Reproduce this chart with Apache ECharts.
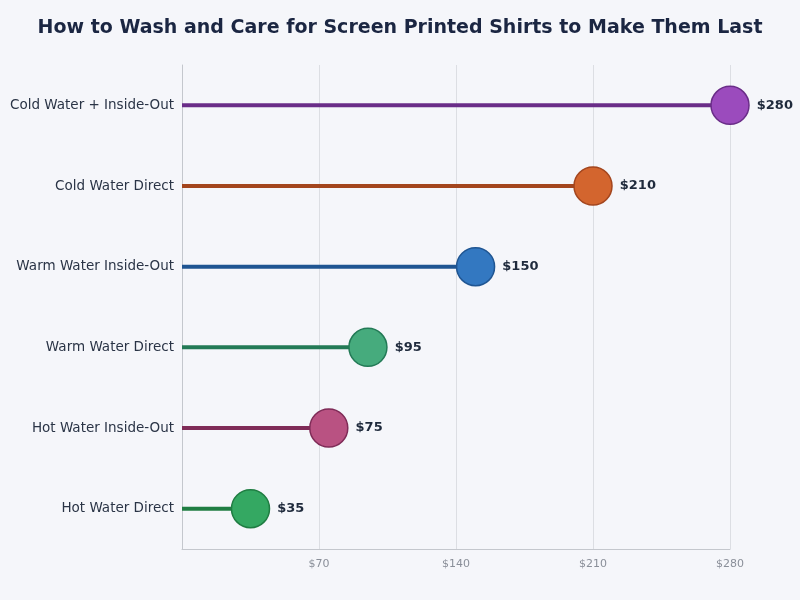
<!DOCTYPE html>
<html style="height: 100%">
<head>
  <meta charset="utf-8">
  <script src="https://cdn.jsdelivr.net/npm/echarts@6/dist/echarts.min.js"></script>
</head>
<body style="height: 100%; width: 100%; margin: 0; background: #f5f6fa">
<div id="main" style="width: 800px; height: 600px"></div>
<script type="text/javascript">
// data, bottom to top
var categories = ['Hot Water Direct', 'Hot Water Inside-Out', 'Warm Water Direct',
                  'Warm Water Inside-Out', 'Cold Water Direct', 'Cold Water + Inside-Out'];
var values = [35, 75, 95, 150, 210, 280];
var fillColors = ['#34a862', '#b95282', '#46ab7d', '#3378c1', '#d3652e', '#9b4bbd'];
var stemColors = ['#1f7d42', '#7f2b57', '#237a56', '#1f5592', '#a3451d', '#6a2d88'];
var tickValues = [70, 140, 210, 280];

var chart = echarts.init(document.getElementById('main'));

var stems = [], dots = [];
for (var i = 0; i < values.length; i++) {
  stems.push({ value: values[i], itemStyle: { color: stemColors[i] } });
  dots.push({
    value: [values[i], categories[i]],
    itemStyle: { color: fillColors[i], borderColor: stemColors[i], borderWidth: 1.5, opacity: 1 }
  });
}

var option = {
  backgroundColor: '#f5f6fa',
  textStyle: { fontFamily: 'DejaVu Sans' },
  title: {
    text: 'How to Wash and Care for Screen Printed Shirts to Make Them Last',
    left: 'center',
    top: 14,
    textStyle: { fontSize: 19, fontWeight: 'bold', color: '#1b2642', fontFamily: 'DejaVu Sans' }
  },
  grid: { left: 182, right: 70, top: 65, bottom: 51 },
  xAxis: {
    type: 'value',
    min: 0,
    max: 280,
    interval: 70,
    axisLine: { show: true, lineStyle: { color: '#c4c7cd' } },
    axisTick: { show: false },
    splitLine: { show: true, lineStyle: { color: '#dcdee3' } },
    axisLabel: {
      color: '#8a8f99',
      fontSize: 11,
      margin: 10,
      formatter: function (v) { return tickValues.indexOf(v) >= 0 ? '$' + v : ''; }
    }
  },
  yAxis: {
    type: 'category',
    data: categories,
    axisLine: { show: true, lineStyle: { color: '#c4c7cd' } },
    axisTick: { show: false },
    axisLabel: { color: '#2a3446', fontSize: 13.5, margin: 8 }
  },
  series: [
    {
      type: 'bar',
      data: stems,
      barWidth: 4,
      z: 1,
      silent: true
    },
    {
      type: 'scatter',
      data: dots,
      symbolSize: 38,
      z: 3,
      label: {
        show: true,
        position: 'right',
        distance: 7,
        fontSize: 13,
        fontWeight: 'bold',
        color: '#1f2a3c',
        opacity: 1,
        formatter: function (p) { return '$' + p.value[0]; }
      }
    }
  ]
};
chart.setOption(option);
</script>
</body>
</html>
